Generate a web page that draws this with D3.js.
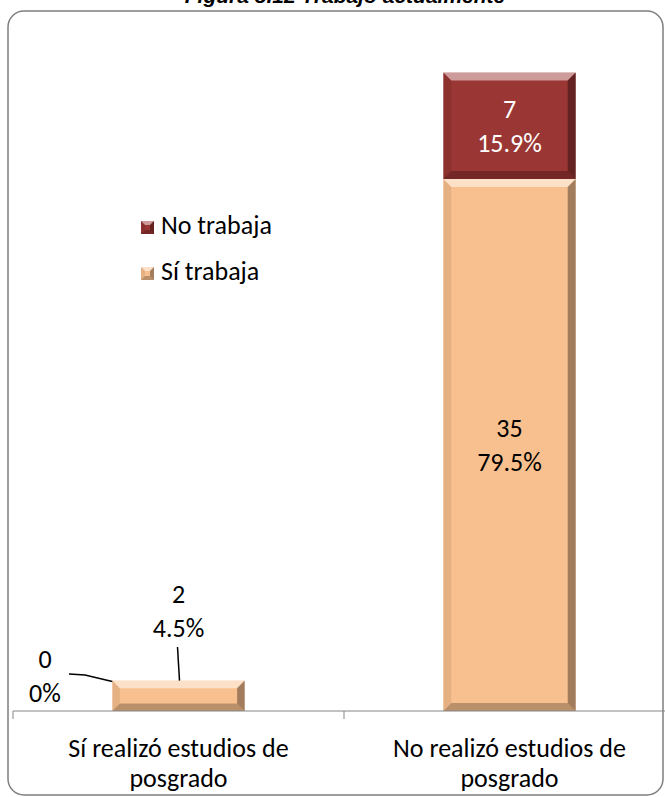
<!DOCTYPE html>
<html>
<head>
<meta charset="utf-8">
<script src="https://cdn.jsdelivr.net/npm/d3@7"></script>
<style>
  body { margin: 0; background: white; }
  svg { display: block; }
</style>
</head>
<body>
<svg id="chart"></svg>
<script>
"use strict";

// Chart data
const categories = ["Sí realizó estudios de posgrado", "No realizó estudios de posgrado"];
const category_lines = [["Sí realizó estudios de", "posgrado"], ["No realizó estudios de", "posgrado"]];
const si_trabaja = [2, 35];
const no_trabaja = [0, 7];
const si_pct = ["4.5%", "79.5%"];
const no_pct = ["0%", "15.9%"];
const series_names = ["No trabaja", "Sí trabaja"];

const width = 665, height = 797;
const FONT = "Carlito, Lato, 'Open Sans', sans-serif";
const FONT_SIZE = 26;
const ORANGE = "#f9c08f", RED = "#9a3634";

const svg = d3.select("#chart").attr("width", width).attr("height", height);

svg.append("rect").attr("width", width).attr("height", height).attr("fill", "white");

// Title (cut off at the top of the picture)
svg.append("text")
    .attr("x", 345).attr("y", 3)
    .attr("text-anchor", "middle")
    .attr("font-family", "Arial, 'Liberation Sans', sans-serif")
    .attr("font-size", 21).attr("font-weight", "bold").attr("font-style", "italic")
    .text("Figura 8.12 Trabajo actualmente");

// Frame
svg.append("rect")
    .attr("x", 8).attr("y", 11).attr("width", 655).attr("height", 784)
    .attr("rx", 16).attr("ry", 16)
    .attr("fill", "none").attr("stroke", "#7f7f7f").attr("stroke-width", 1.5);

const x_scale = d3.scaleBand().domain(categories).range([13, 675]).padding(0);
const y_scale = d3.scaleLinear().domain([0, 45]).range([711, 27]);
const bar_w = x_scale.bandwidth() * 0.4;

// Draws a rect with an Excel-like bevel
function bevel_rect(g, x, y, w, h, color, b) {
    g.append("rect").attr("x", x).attr("y", y).attr("width", w).attr("height", h).attr("fill", color);
    const faces = [
        {pts: [[x, y], [x + w, y], [x + w - b, y + b], [x + b, y + b]], fill: "white", op: 0.5},
        {pts: [[x, y], [x + b, y + b], [x + b, y + h - b], [x, y + h]], fill: "black", op: 0.08},
        {pts: [[x + w, y], [x + w, y + h], [x + w - b, y + h - b], [x + w - b, y + b]], fill: "black", op: 0.35},
        {pts: [[x, y + h], [x + b, y + h - b], [x + w - b, y + h - b], [x + w, y + h]], fill: "black", op: 0.25}
    ];
    faces.forEach(function (f) {
        g.append("polygon")
            .attr("points", f.pts.map(function (p) { return p.join(","); }).join(" "))
            .attr("fill", f.fill).attr("fill-opacity", f.op);
    });
}

const bars = svg.append("g");
categories.forEach(function (c, i) {
    const cx = x_scale(c) + x_scale.bandwidth() / 2;
    const x0 = cx - bar_w / 2;
    const y_si = y_scale(si_trabaja[i]);
    const h_si = y_scale(0) - y_si;
    if (h_si > 0) bevel_rect(bars, x0, y_si, bar_w, h_si, ORANGE, Math.min(8, h_si / 4));
    const y_no = y_scale(si_trabaja[i] + no_trabaja[i]);
    const h_no = y_si - y_no;
    if (h_no > 0) bevel_rect(bars, x0, y_no, bar_w, h_no, RED, Math.min(8, h_no / 4));
});

// Axis
const axis = svg.append("g").attr("stroke", "#868686").attr("stroke-width", 1);
axis.append("line").attr("x1", x_scale.range()[0]).attr("x2", x_scale.range()[1])
    .attr("y1", y_scale(0)).attr("y2", y_scale(0));
categories.concat(["end"]).forEach(function (c, i) {
    const tx = i < categories.length ? x_scale(c) : x_scale.range()[1];
    axis.append("line").attr("x1", tx).attr("x2", tx).attr("y1", y_scale(0)).attr("y2", y_scale(0) + 8);
});

// Category labels
categories.forEach(function (c, i) {
    const cx = x_scale(c) + x_scale.bandwidth() / 2;
    category_lines[i].forEach(function (line, j) {
        svg.append("text")
            .attr("x", cx).attr("y", 757 + j * 30)
            .attr("text-anchor", "middle")
            .attr("font-family", FONT).attr("font-size", FONT_SIZE).attr("fill", "#000")
            .text(line);
    });
});

// Data labels
function two_lines(x, y, a, b, color) {
    [a, b].forEach(function (t, j) {
        svg.append("text")
            .attr("x", x).attr("y", y + j * 34)
            .attr("text-anchor", "middle")
            .attr("font-family", FONT).attr("font-size", FONT_SIZE).attr("fill", color)
            .text(t);
    });
}

// First category: small values, labels placed outside with leader lines
const c0 = x_scale(categories[0]) + x_scale.bandwidth() / 2;
two_lines(c0, 603, si_trabaja[0], si_pct[0], "#000");
svg.append("line").attr("x1", c0 - 1).attr("y1", 647).attr("x2", c0 + 1).attr("y2", y_scale(si_trabaja[0]))
    .attr("stroke", "#000").attr("stroke-width", 1.5);
two_lines(45, 668, no_trabaja[0], no_pct[0], "#000");
svg.append("polyline")
    .attr("points", "69,674 85,675 " + (c0 - bar_w / 2) + "," + (y_scale(si_trabaja[0]) + 1))
    .attr("fill", "none").attr("stroke", "#000").attr("stroke-width", 1.5);

// Second category: labels inside the segments
const c1 = x_scale(categories[1]) + x_scale.bandwidth() / 2;
const mid_si = (y_scale(0) + y_scale(si_trabaja[1])) / 2;
two_lines(c1, mid_si - 8, si_trabaja[1], si_pct[1], "#000");
const mid_no = (y_scale(si_trabaja[1]) + y_scale(si_trabaja[1] + no_trabaja[1])) / 2;
two_lines(c1, mid_no - 8, no_trabaja[1], no_pct[1], "#fff");

// Legend
const legend = svg.append("g");
[RED, ORANGE].forEach(function (color, i) {
    const ly = 234 + i * 46;
    bevel_rect(legend, 141, ly - 13, 13, 13, color, 4);
    legend.append("text")
        .attr("x", 161).attr("y", ly)
        .attr("font-family", FONT).attr("font-size", FONT_SIZE).attr("fill", "#000")
        .text(series_names[i]);
});
</script>
</body>
</html>
